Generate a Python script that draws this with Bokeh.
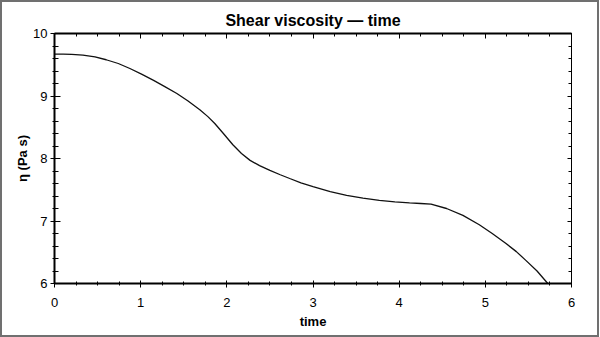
from bokeh.plotting import figure
from bokeh.models import (LinearAxis, Range1d, SingleIntervalTicker, Title,
                          CustomJSTickFormatter)
from bokeh.embed import file_html
from bokeh.resources import INLINE

# data
time = [0.0, 0.1, 0.2, 0.33, 0.47, 0.6, 0.74, 0.875, 1.01, 1.15, 1.28, 1.42,
        1.55, 1.69, 1.78, 1.86, 1.96, 2.07, 2.17, 2.27, 2.38, 2.5, 2.62, 2.73,
        2.86, 3.0, 3.2, 3.39, 3.58, 3.77, 3.95, 4.12, 4.25, 4.37, 4.55, 4.74,
        4.93, 5.08, 5.24, 5.36, 5.47, 5.6, 5.725]
viscosity = [9.67, 9.67, 9.665, 9.655, 9.625, 9.58, 9.52, 9.44, 9.35, 9.25,
             9.15, 9.04, 8.92, 8.775, 8.67, 8.56, 8.40, 8.22, 8.08, 7.97,
             7.885, 7.81, 7.74, 7.68, 7.61, 7.55, 7.47, 7.41, 7.365, 7.33,
             7.305, 7.29, 7.28, 7.27, 7.20, 7.09, 6.94, 6.80, 6.64, 6.51,
             6.37, 6.2, 6.0]

x_limits = (0, 6)
y_limits = (6, 10)
title_text = "Shear viscosity \u2014 time"
x_label = "time"
y_label = "\u03b7 (Pa s)"

FONT = "Liberation Sans"

p = figure(width=595, height=333,
           x_range=Range1d(*x_limits), y_range=Range1d(*y_limits),
           output_backend="svg", toolbar_location=None,
           x_axis_location=None, y_axis_location=None,
           min_border_left=52, min_border_right=30,
           min_border_top=31, min_border_bottom=56)
p.styles = {"border": "2px solid #707070", "box-sizing": "content-box"}
p.outline_line_color = None
p.background_fill_color = "white"
p.border_fill_color = "white"
for g in p.grid:
    g.visible = False

p.title = Title(text=title_text, align="center", offset=-14, standoff=9,
                text_font=FONT, text_font_size="16px", text_font_style="bold",
                text_color="black")

def style(ax, lw, mi, mo, ni, no, labels=True):
    ax.axis_line_width = lw
    ax.axis_line_color = "black"
    ax.major_tick_in = mi
    ax.major_tick_out = mo
    ax.minor_tick_in = ni
    ax.minor_tick_out = no
    ax.major_tick_line_color = "black"
    ax.minor_tick_line_color = "black"
    ax.major_tick_line_width = 1
    ax.minor_tick_line_width = 1
    ax.major_label_text_font = FONT
    ax.major_label_text_font_size = "13px"
    ax.major_label_text_color = "black"
    ax.axis_label_text_font = FONT
    ax.axis_label_text_font_size = "13px"
    ax.axis_label_text_font_style = "bold"
    ax.axis_label_text_color = "black"
    if not labels:
        ax.formatter = CustomJSTickFormatter(code="return ''")
        ax.major_label_standoff = 0

xt = SingleIntervalTicker(interval=1, num_minor_ticks=4)
yt = SingleIntervalTicker(interval=1, num_minor_ticks=5)

bottom = LinearAxis(ticker=xt, axis_label=x_label)
style(bottom, 2, 3, 4, 2, 2)
bottom.major_label_standoff = 10
bottom.axis_label_standoff = 4
p.add_layout(bottom, "below")

left = LinearAxis(ticker=yt, axis_label=y_label)
style(left, 2, 6, 4, 4, 2)
left.major_label_standoff = 3
left.axis_label_standoff = 0
p.add_layout(left, "left")

top = LinearAxis(ticker=SingleIntervalTicker(interval=1, num_minor_ticks=4))
style(top, 2, 5, 0, 3, 0, labels=False)
p.add_layout(top, "above")

right = LinearAxis(ticker=SingleIntervalTicker(interval=1, num_minor_ticks=5))
style(right, 1, 4, 0, 3, 0, labels=False)
p.add_layout(right, "right")

p.line(time, viscosity, line_color="#111111", line_width=1.3)

open("out.html", "w").write(file_html(p, INLINE))
